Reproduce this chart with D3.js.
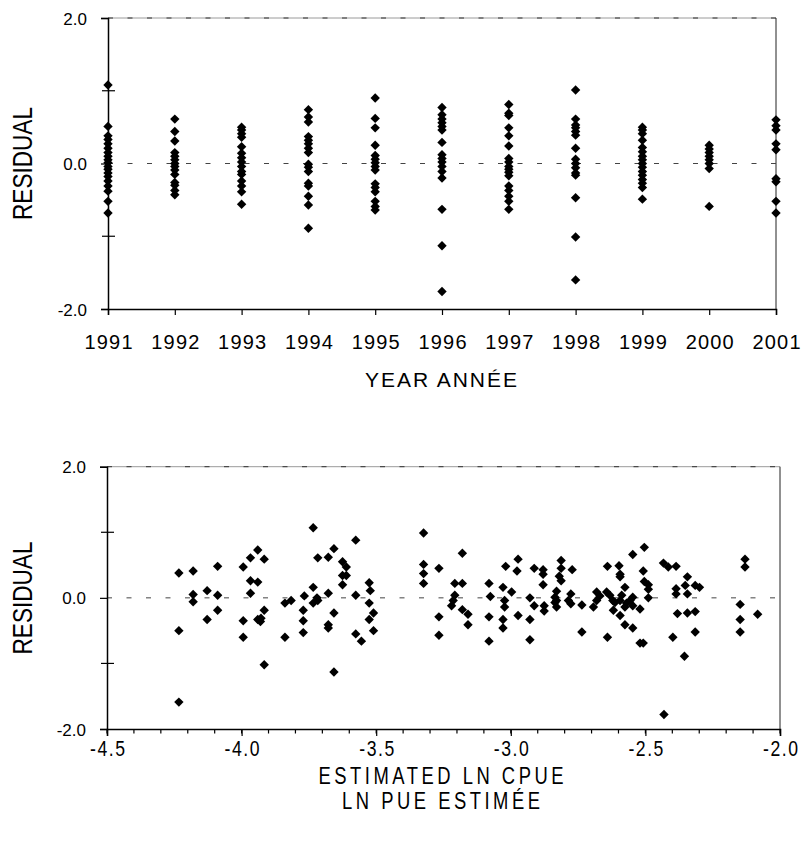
<!DOCTYPE html>
<html>
<head>
<meta charset="utf-8">
<script src="https://cdn.jsdelivr.net/npm/d3@7"></script>
<style>
  html, body { margin: 0; padding: 0; background: #fff; }
  svg { display: block; }
  text { font-family: "Liberation Sans", Arial, sans-serif; fill: #000; }
</style>
</head>
<body>
<svg id="chart" width="802" height="844"></svg>
<script>
// ---------------- DATA ----------------
const years = [1991, 1992, 1993, 1994, 1995, 1996, 1997, 1998, 1999, 2000, 2001];
const residualsByYear = [
  [1.08, 0.51, 0.38, 0.33, 0.27, 0.21, 0.15, 0.10, 0.05, 0.01, -0.04, -0.08, -0.13, -0.18, -0.24, -0.31, -0.38, -0.52, -0.68],
  [0.61, 0.44, 0.31, 0.15, 0.10, 0.05, 0.00, -0.04, -0.09, -0.15, -0.26, -0.30, -0.37, -0.43],
  [0.50, 0.46, 0.41, 0.36, 0.23, 0.14, 0.08, 0.02, -0.04, -0.11, -0.15, -0.24, -0.31, -0.39, -0.56],
  [0.74, 0.64, 0.57, 0.37, 0.32, 0.27, 0.21, 0.15, -0.01, -0.05, -0.11, -0.27, -0.31, -0.45, -0.57, -0.89],
  [0.90, 0.62, 0.49, 0.25, 0.11, 0.06, 0.01, -0.04, -0.09, -0.28, -0.33, -0.39, -0.52, -0.59, -0.64],
  [0.77, 0.67, 0.61, 0.56, 0.51, 0.46, 0.29, 0.12, 0.07, 0.02, -0.04, -0.11, -0.20, -0.63, -1.13, -1.76],
  [0.81, 0.69, 0.66, 0.49, 0.38, 0.24, 0.07, 0.02, -0.04, -0.08, -0.12, -0.17, -0.31, -0.37, -0.45, -0.52, -0.63],
  [1.01, 0.61, 0.53, 0.49, 0.44, 0.39, 0.21, 0.06, 0.00, -0.06, -0.13, -0.16, -0.47, -1.01, -1.60],
  [0.50, 0.46, 0.41, 0.32, 0.22, 0.16, 0.10, 0.05, 0.00, -0.05, -0.11, -0.16, -0.22, -0.27, -0.33, -0.49],
  [0.25, 0.20, 0.15, 0.10, 0.05, 0.00, -0.07, -0.59],
  [0.60, 0.52, 0.46, 0.27, 0.19, -0.21, -0.25, -0.52, -0.68]
];

const estimatedLnCpue = [
  -4.233, -4.233, -4.233, -4.18, -4.18, -4.18, -4.128, -4.128, -4.089, -4.089, -4.089,
  -3.994, -3.994, -3.994, -3.967, -3.967, -3.967, -3.94, -3.94, -3.94, -3.93, -3.928,
  -3.916, -3.916, -3.916, -3.839, -3.839, -3.816, -3.771, -3.771, -3.771, -3.767,
  -3.734, -3.734, -3.734, -3.717, -3.717, -3.72, -3.678, -3.678, -3.678, -3.678,
  -3.657, -3.657, -3.657, -3.625, -3.611, -3.625, -3.611, -3.625, -3.576, -3.576, -3.576, -3.555,
  -3.526, -3.522, -3.526, -3.51, -3.526, -3.51,
  -3.324, -3.324, -3.324, -3.324, -3.267, -3.267, -3.267, -3.208, -3.18, -3.18, -3.208, -3.214, -3.22,
  -3.18, -3.159, -3.159, -3.081, -3.076, -3.081, -3.081, -3.029, -3.019, -3.023, -3.023, -3.029, -3.029,
  -2.997, -2.973, -2.977, -2.973, -2.929, -2.929, -2.929, -2.913, -2.913, -2.88, -2.88, -2.88, -2.876, -2.876,
  -2.83, -2.83, -2.83, -2.813, -2.813, -2.82, -2.813, -2.836, -2.772, -2.777, -2.777, -2.736, -2.736,
  -2.693, -2.681, -2.681, -2.644, -2.641, -2.641, -2.621, -2.619, -2.598, -2.594, -2.594, -2.594, -2.588,
  -2.576, -2.576, -2.594, -2.576, -2.547, -2.547, -2.547, -2.547, -2.52, -2.52, -2.508, -2.504, -2.508,
  -2.504, -2.489, -2.489, -2.489, -2.433, -2.415, -2.386, -2.431, -2.386, -2.386, -2.381, -2.398, -2.355,
  -2.352, -2.344, -2.344, -2.344, -2.315, -2.299, -2.315, -2.315, -2.13, -2.13, -2.148, -2.148, -2.148, -2.083,
  -2.669, -2.632, -2.613, -2.557, -2.57, -2.786, -2.836
];
const residualsByCpue = [
  0.38, -0.50, -1.59, 0.41, 0.05, -0.06, 0.11, -0.33, 0.48, 0.04, -0.19,
  0.47, -0.35, -0.60, 0.61, 0.26, 0.07, 0.73, 0.24, -0.33, -0.36, -0.31,
  0.59, -0.19, -1.02, -0.08, -0.60, -0.04, -0.19, -0.35, -0.53, 0.03,
  1.07, 0.16, -0.08, 0.61, -0.04, 0.00, 0.62, 0.07, -0.41, -0.46,
  0.75, -0.23, -1.13, 0.55, 0.47, 0.34, 0.34, 0.20, 0.88, 0.04, -0.55, -0.66,
  0.23, 0.11, -0.08, -0.23, -0.33, -0.50,
  0.99, 0.51, 0.37, 0.22, 0.45, -0.29, -0.57, 0.22, 0.22, 0.68, 0.04, -0.04, -0.12,
  -0.18, -0.25, -0.41, 0.22, 0.02, -0.29, -0.66, 0.16, 0.48, -0.04, -0.14, -0.33, -0.46,
  0.09, 0.59, 0.41, -0.27, 0.00, -0.33, -0.64, 0.45, -0.12, 0.43, 0.36, 0.20, -0.12, -0.20,
  0.10, -0.04, -0.14, 0.57, 0.45, 0.33, 0.26, -0.07, 0.43, 0.06, -0.09, -0.11, -0.52,
  -0.14, 0.09, -0.04, 0.09, 0.48, -0.60, -0.04, -0.19, 0.49, 0.36, 0.32, -0.04, 0.04,
  0.16, -0.14, -0.27, -0.41, 0.66, 0.01, -0.12, -0.46, -0.17, -0.69, -0.69, 0.77, 0.41,
  0.25, 0.20, 0.13, 0.00, 0.53, 0.47, 0.48, -1.78, 0.14, 0.06, -0.24, -0.60, -0.89,
  0.19, 0.32, 0.06, -0.23, 0.19, 0.16, -0.21, -0.52, 0.59, 0.47, -0.10, -0.33, -0.52, -0.25,
  0.03, 0.04, -0.07, -0.04, -0.08, -0.04, 0.01
];

const yTickValues = [-2, 0, 2];
const yMinorValues = [-1, 1];
const cpueTickValues = [-4.5, -4.0, -3.5, -3.0, -2.5, -2.0];

// ---------------- DRAW ----------------
const svg = d3.select("#chart");
const diamond = "M0,-4.7L4.7,0L0,4.7L-4.7,0Z";
const narrowScale = 0.8;

function frame(g, x, y, x0, x1) {
  const top = y(2), bottom = y(-2);
  g.append("line").attr("x1", x(x0)).attr("x2", x(x1)).attr("y1", top).attr("y2", top)
    .attr("stroke", "#9a9a9a").attr("stroke-width", 1);
  g.append("line").attr("x1", x(x0)).attr("x2", x(x1)).attr("y1", top).attr("y2", top)
    .attr("stroke", "#333").attr("stroke-width", 1).attr("stroke-dasharray", "5,14.5");
  g.append("line").attr("x1", x(x1)).attr("x2", x(x1)).attr("y1", top).attr("y2", bottom)
    .attr("stroke", "#222").attr("stroke-width", 1);
  g.append("line").attr("x1", x(x0)).attr("x2", x(x1)).attr("y1", y(0)).attr("y2", y(0))
    .attr("stroke", "#444").attr("stroke-width", 1).attr("stroke-dasharray", "5,14.5");
  const ya = g.append("g").attr("transform", `translate(${x(x0)},0)`)
    .call(d3.axisLeft(y).tickValues(yTickValues).tickSize(7).tickFormat(d3.format(".1f")));
  ya.select(".domain").attr("stroke", "#000").attr("stroke-width", 1.5);
  ya.selectAll(".tick line").attr("stroke", "#000").attr("stroke-width", 1.2);
  ya.selectAll(".tick text").attr("x", -21).attr("dy", null).attr("y", 6)
    .style("font-size", "17px").style("font-family", '"Liberation Sans", Arial, sans-serif')
    .text(d => d < 0 ? "-" + Math.abs(d).toFixed(1) : d.toFixed(1));
  g.selectAll(".minor").data(yMinorValues).enter().append("line")
    .attr("x1", x(x0) - 6).attr("x2", x(x0) + 7)
    .attr("y1", d => y(d)).attr("y2", d => y(d))
    .attr("stroke", "#000").attr("stroke-width", 1.2);
}

// ---- Top chart ----
const gTop = svg.append("g");
const xTop = d3.scaleLinear().domain([1991, 2001]).range([108, 776]);
const yTop = d3.scaleLinear().domain([-2, 2]).range([309, 18]);
frame(gTop, xTop, yTop, 1991, 2001);
const xaTop = gTop.append("g").attr("transform", `translate(0,${yTop(-2)})`)
  .call(d3.axisBottom(xTop).tickValues(years).tickSize(6).tickFormat(d3.format("d")));
xaTop.select(".domain").attr("stroke", "#000").attr("stroke-width", 1.5);
xaTop.selectAll(".tick line").attr("stroke", "#000").attr("stroke-width", 1.2);
xaTop.selectAll(".tick text").attr("y", 40).attr("dy", null)
  .style("font-size", "20px").style("font-family", '"Liberation Sans", Arial, sans-serif')
  .attr("textLength", 48).attr("lengthAdjust", "spacing");

const topPts = [];
years.forEach((yr, i) => residualsByYear[i].forEach(v => topPts.push({x: yr, y: v})));
gTop.selectAll(".pt").data(topPts).enter().append("path")
  .attr("d", diamond).attr("transform", d => `translate(${xTop(d.x)},${yTop(d.y)})`)
  .attr("fill", "#000");

gTop.append("text").attr("x", 441).attr("y", 387).attr("text-anchor", "middle")
  .style("font-size", "21px").attr("textLength", 152).attr("lengthAdjust", "spacing")
  .text("YEAR ANNÉE");
gTop.append("text").attr("transform", "translate(32,163.5) rotate(-90)").attr("text-anchor", "middle")
  .style("font-size", "27px").attr("textLength", 113).attr("lengthAdjust", "spacingAndGlyphs")
  .text("RESIDUAL");

// ---- Bottom chart ----
const gBot = svg.append("g");
const xBot = d3.scaleLinear().domain([-4.5, -2.0]).range([107, 780]);
const yBot = d3.scaleLinear().domain([-2, 2]).range([729, 466.7]);
frame(gBot, xBot, yBot, -4.5, -2.0);
const minorX = d3.range(-45, -19).map(d => d / 10);
gBot.selectAll(".xminor").data(minorX).enter().append("line")
  .attr("x1", d => xBot(d)).attr("x2", d => xBot(d))
  .attr("y1", yBot(-2)).attr("y2", yBot(-2) + 4.5)
  .attr("stroke", "#000").attr("stroke-width", 1.2);
const xaBot = gBot.append("g").attr("transform", `translate(0,${yBot(-2)})`)
  .call(d3.axisBottom(xBot).tickValues(cpueTickValues).tickSize(7).tickFormat(d3.format(".1f")));
xaBot.select(".domain").attr("stroke", "#000").attr("stroke-width", 1.5);
xaBot.selectAll(".tick line").attr("stroke", "#000").attr("stroke-width", 1.2);
xaBot.selectAll(".tick text").attr("y", 27.5).attr("dy", null)
  .attr("transform", `scale(${narrowScale},1)`)
  .style("font-size", "22px").style("font-family", '"Liberation Sans", Arial, sans-serif')
  .attr("textLength", 35 / narrowScale).attr("lengthAdjust", "spacing")
  .text(d => "-" + Math.abs(d).toFixed(1));

const botPts = estimatedLnCpue.map((v, i) => ({x: v, y: residualsByCpue[i]}));
gBot.selectAll(".pt").data(botPts).enter().append("path")
  .attr("d", diamond).attr("transform", d => `translate(${xBot(d.x)},${yBot(d.y)})`)
  .attr("fill", "#000");

function narrowText(g, cx, by, w, s) {
  g.append("text").attr("transform", `translate(${cx},${by}) scale(${narrowScale},1)`)
    .attr("text-anchor", "middle").style("font-size", "23px")
    .attr("textLength", w / narrowScale).attr("lengthAdjust", "spacing").text(s);
}
narrowText(gBot, 441, 784, 245, "ESTIMATED LN CPUE");
narrowText(gBot, 441, 809, 198, "LN PUE ESTIMÉE");
gBot.append("text").attr("transform", "translate(32,598) rotate(-90)").attr("text-anchor", "middle")
  .style("font-size", "27px").attr("textLength", 113).attr("lengthAdjust", "spacingAndGlyphs")
  .text("RESIDUAL");
</script>
</body>
</html>
